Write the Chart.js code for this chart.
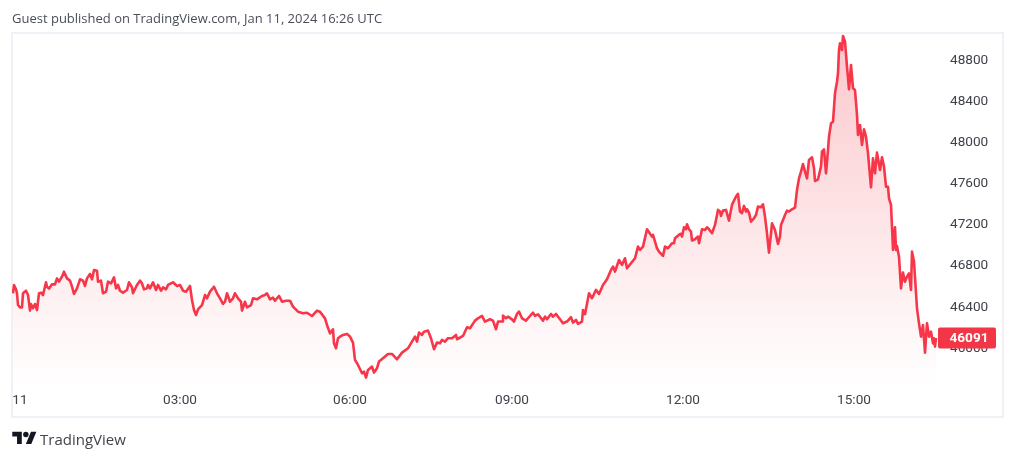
<!DOCTYPE html>
<html>
<head>
<meta charset="utf-8">
<script src="https://cdn.jsdelivr.net/npm/chart.js@4"></script>
<style>
html,body{margin:0;padding:0;background:#fff;overflow:hidden;width:1015px;height:459px;position:relative;font-family:Roboto,sans-serif;}
#wrap{position:absolute;left:0;top:0;width:1015px;height:459px;}
#title{position:absolute;left:12px;top:10px;font:13px/16px "Open Sans",sans-serif;color:#4a4e59;white-space:nowrap;}
#brand{position:absolute;left:12px;top:429px;display:flex;align-items:center;color:#40434c;font:15px/18px "Open Sans",sans-serif;white-space:nowrap;}
#brand svg{width:25px;height:19px;margin-right:3px;fill:#131722;}
</style>
</head>
<body>
<div id="wrap"><canvas id="c" width="1015" height="459"></canvas></div>
<div id="title">Guest published on TradingView.com, Jan 11, 2024 16:26 UTC</div>
<div id="brand"><svg viewBox="0 0 36 28"><path d="M14 22H7V11H0V4h14v18zM28 22h-8l7.5-18h8L28 22z"/><circle cx="20" cy="8" r="4"/></svg><span>TradingView</span></div>
<script>
const bars = [1,2,4,5,6,8,10,11,14,16,18,19,21,23,25,27,29,31,34,35,37,40,43,45,47,50,52,55,58,60,62,65,68,71,73,75,78,80,82,85,86,89,91,94,96,99,102,104,106,108,111,115,117,120,121,125,128,130,132,135,136,138,141,144,146,149,151,154,156,161,165,168,171,174,178,180,182,184,186,190,193,195,198,202,205,208,211,213,215,218,221,223,226,229,230,233,235,239,241,245,250,253,255,258,261,263,267,270,274,278,281,286,291,295,300,305,308,313,315,318,321,322,324,326,328,
331,335,338,341,343,346,350,352,354,356,360,362,365,367,371,376,380,385,390,396,400,403,405,407,410,412,416,419,422,425,428,430,433,436,440,444,445,451,455,458,463,466,470,473,478,481,484,486,490,491,494,496,500,502,505,507,510,514,516,521,523,526,531,533,535,539,541,544,548,551,555,559,561,564,566,570,571,573,577,580,584,587,591,595,599,601,603,607,610,613,615,619,623,626,628,631,635,640,641,645,647,651,653,656,660,662,663,668,
669,670,672,674,675,677,679,680,683,686,687,690,693,695,697,700,703,706,708,709,711,714,717,720,721,724,726,728,730,732,734,735,737,739,742,744,746,749,751,753,755,757,759,760,763,766,768,769,773,775,777,780,783,785,
787,789,791,793,795,797,800,802,803,806,809,810,812,814,816,817,819,821,823,825,826,827,828,830,831,833,835,837,839,841,843,845,846,848,850,852,854,856,859,861,863,865,868,870,872,874,876,877,
879,880,881,883,884,885,887,889,891,893,895,897,899,900,902,905,907,909,911,913,915,917,919,921,922,923,924];
const prices = [46525,46606,46563,46525,46411,46388,46388,46525,46550,46508,46356,46421,46379,46421,46362,46525,46531,46508,46632,46589,46570,46612,46612,46670,46638,46687,46735,46670,46648,46589,46518,46573,46661,46648,46596,46670,46713,46661,46751,46745,46638,46648,46525,46541,46638,46622,46680,46573,46606,46550,46531,46557,46632,46583,46525,46606,46648,46622,46563,46573,46606,46573,46632,46557,46606,46550,46583,46563,46606,46632,46596,46606,46550,46541,46596,46460,46362,46314,46369,46411,46508,46476,46541,46589,46525,46476,46421,46443,46525,46443,46476,46525,46476,46443,46356,46443,46388,46411,46476,46466,46499,46508,46525,46466,46482,46453,46499,46443,46453,46453,46395,46346,46330,46336,46304,46356,46346,46281,46217,46135,46174,46038,45990,46087,46103,
46120,46130,46104,46045,45877,45828,45747,45763,45705,45780,45812,45754,45796,45861,45893,45935,45935,45883,45948,45990,46055,46104,46055,46143,46120,46152,46162,46088,45981,46045,46039,46071,46055,46088,46088,46120,46078,46110,46195,46185,46259,46282,46305,46250,46272,46259,46175,46250,46250,46308,46282,46298,46272,46250,46324,46347,46282,46259,46282,46337,46305,46321,46259,46298,46272,46324,46298,46324,46272,46233,46250,46292,46240,46266,46227,46250,46363,46321,46525,46477,46558,46519,46606,46661,46752,46785,46736,46849,46801,46866,46768,46817,46866,46979,46947,46979,47148,47076,47093,46963,46930,46888,46979,46963,47012,47012,47060,47102,
47103,47077,47167,47148,47197,47148,47125,47038,47051,47077,47012,47148,47141,47167,47148,47109,47190,47336,47320,47278,47329,47336,47232,47385,47407,47466,47492,47320,47304,47375,47320,47342,47310,47222,47255,47287,47368,47362,47391,47271,47109,46921,47109,47206,47141,47005,47077,47190,47287,47329,47320,47342,47359,47530,
47643,47708,47783,47708,47643,47822,47848,47741,47617,47634,47757,47903,47925,47692,47919,48049,48178,48194,48470,48583,48665,48891,48956,48891,49028,48973,48729,48509,48746,48519,48502,48259,48065,48162,47968,48120,48049,47886,47556,47838,47692,47893,47724,47848,47757,47562,47562,47449,
47384,47173,46946,47167,46946,46985,46881,46573,46726,46638,46687,46719,46557,46930,46833,46379,46233,46103,46217,45948,46233,46103,46152,46038,46087,46006,46091];
const timeTickBars = [8,168,338,500,671,842];
const timeTickLabels = ["11","03:00","06:00","09:00","12:00","15:00"];
const priceTicks = [46000,46400,46800,47200,47600,48000,48400,48800];
const lastPrice = 46091;
const axisFont = {family:"Roboto", size:13.6};

const framePlugin = {
  id:'frame',
  beforeDraw(chart){
    const c = chart.ctx;
    c.save();
    c.strokeStyle = '#f0f0f6';
    c.lineWidth = 2;
    c.strokeRect(12,33,991,384);
    c.restore();
  },
  afterDraw(chart){
    const c = chart.ctx, y = chart.scales.y.getPixelForValue(lastPrice);
    c.save();
    c.fillStyle = '#f23645';
    c.beginPath();
    c.roundRect(938, y-10.5, 58, 21, 2);
    c.fill();
    c.fillStyle = '#fff';
    c.font = 'bold 13.6px Roboto';
    c.textAlign = 'center';
    c.textBaseline = 'middle';
    c.fillText(String(lastPrice), 969, y+1);
    c.restore();
  }
};

new Chart(document.getElementById('c'),{
  type:'line',
  data:{datasets:[{
    data:bars.map((b,i)=>({x:b,y:prices[i]})),
    borderColor:'#f7364a',
    borderWidth:2.6,
    pointRadius:0,
    tension:0,
    fill:'start',
    borderJoinStyle:'round',
    backgroundColor(ctx){
      const a = ctx.chart.chartArea;
      if(!a) return 'rgba(242,54,69,0.2)';
      const g = ctx.chart.ctx.createLinearGradient(0,a.top,0,a.bottom);
      g.addColorStop(0,'rgba(242,54,69,0.28)');
      g.addColorStop(1,'rgba(242,54,69,0)');
      return g;
    }
  }]},
  options:{
    responsive:false,
    animation:false,
    devicePixelRatio:1,
    layout:{padding:{left:12,right:13,top:34,bottom:42}},
    plugins:{legend:{display:false},tooltip:{enabled:false}},
    scales:{
      x:{
        type:'linear',min:0,max:928,
        grid:{display:false,drawTicks:false},
        border:{display:false},
        afterBuildTicks(s){s.ticks=timeTickBars.map(v=>({value:v}));},
        afterFit(s){s.height=32;},
        ticks:{
          autoSkip:false,maxRotation:0,padding:7,color:'#3f424b',font:axisFont,
          callback(v){return timeTickLabels[timeTickBars.indexOf(v)];}
        }
      },
      y:{
        position:'right',min:45633,max:49047,
        grid:{display:false,drawTicks:false},
        border:{display:false},
        afterBuildTicks(s){s.ticks=priceTicks.map(v=>({value:v}));},
        afterFit(s){s.width=62;},
        ticks:{padding:10,labelOffset:1,color:'#3f424b',font:axisFont,callback(v){return String(v);}}
      }
    }
  },
  plugins:[framePlugin]
});
</script>
</body>
</html>
